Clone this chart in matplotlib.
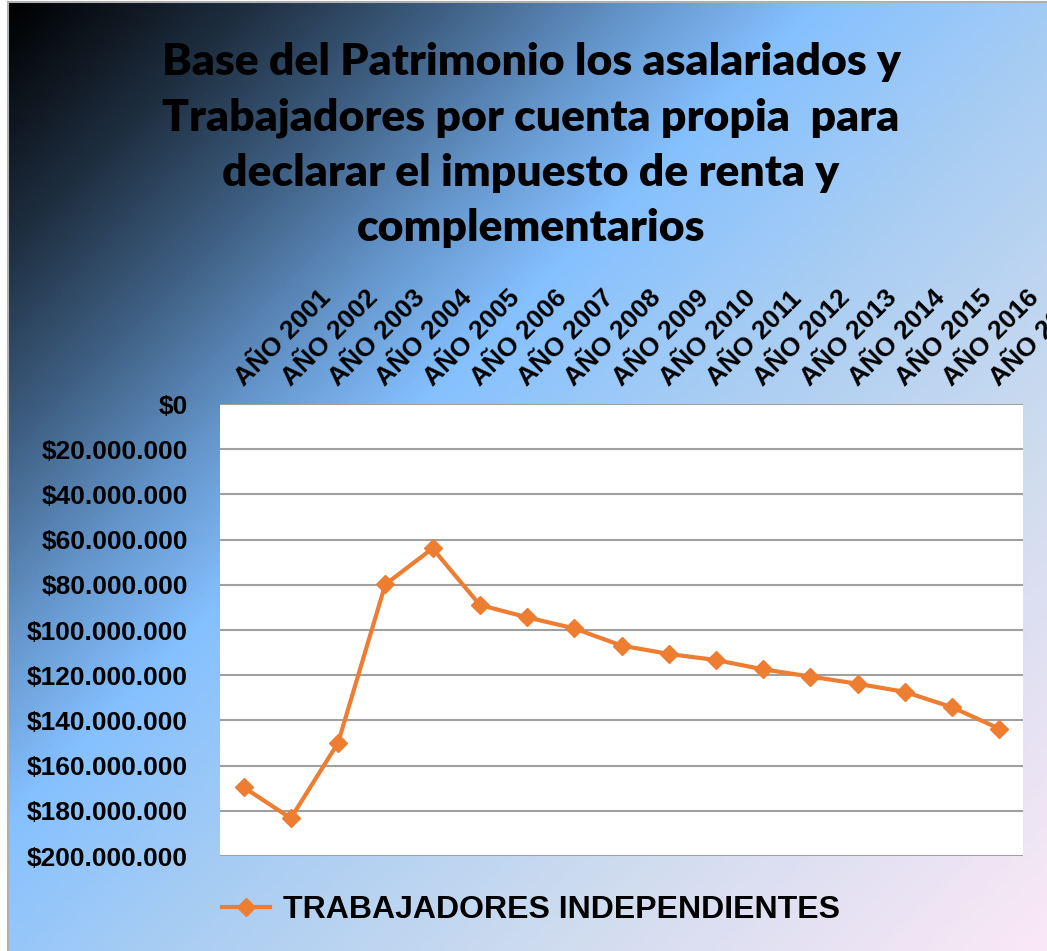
import numpy as np
import matplotlib.pyplot as plt
from matplotlib.colors import LinearSegmentedColormap
from matplotlib.ticker import FuncFormatter, MultipleLocator

# datos
anios = ['AÑO 2001', 'AÑO 2002', 'AÑO 2003', 'AÑO 2004', 'AÑO 2005', 'AÑO 2006',
         'AÑO 2007', 'AÑO 2008', 'AÑO 2009', 'AÑO 2010', 'AÑO 2011', 'AÑO 2012',
         'AÑO 2013', 'AÑO 2014', 'AÑO 2015', 'AÑO 2016', 'AÑO 2017']
independientes = [169.6e6, 183.3e6, 149.9e6, 79.8e6, 63.9e6, 88.9e6, 94.4e6, 99.3e6,
                  106.9e6, 110.6e6, 113.3e6, 117.4e6, 120.6e6, 123.8e6, 127.4e6,
                  134.2e6, 143.7e6]
serie = 'TRABAJADORES INDEPENDIENTES'
titulo = ('Base del Patrimonio los asalariados y\n'
          'Trabajadores por cuenta propia  para\n'
          'declarar el impuesto de renta y\n'
          'complementarios')

W, H = 1047, 951
naranja = '#ED7D31'

fig = plt.figure(figsize=(W / 100, H / 100), dpi=100)

# fondo degradado diagonal
bg = fig.add_axes([8 / W, 0, 1 - 8 / W, 1 - 2 / H], zorder=-10)
xx, yy = np.meshgrid(np.linspace(0, W, 400), np.linspace(0, H, 400))
t = (xx + yy) / (W + H)
cmap = LinearSegmentedColormap.from_list('fondo', [
    (0.0, '#000000'), (0.12, '#1e2e40'), (0.22, '#3e5f82'), (0.32, '#6596cc'),
    (0.41, '#85c1ff'), (0.55, '#a8cdf3'), (0.75, '#cfdcef'), (0.88, '#e6e2f3'),
    (1.0, '#fbe8f6')])
bg.imshow(t, cmap=cmap, aspect='auto', extent=(0, 1, 0, 1), origin='upper')
bg.set_xticks([])
bg.set_yticks([])
for s in ['right', 'bottom']:
    bg.spines[s].set_visible(False)
for s in ['left', 'top']:
    bg.spines[s].set_color('#b0b0b0')
    bg.spines[s].set_linewidth(1.5)

ax = fig.add_axes([220 / W, 1 - 856 / H, (1023 - 220) / W, (856 - 404) / H])
ax.set_facecolor('white')
x = np.arange(len(anios))
ax.plot(x, independientes, color=naranja, lw=3, marker='D', ms=9, label=serie)
ax.set_xlim(-0.5, len(anios) - 0.5)
ax.set_ylim(200e6, 0)
ax.yaxis.set_major_locator(MultipleLocator(20e6))
ax.yaxis.set_major_formatter(FuncFormatter(lambda v, p: '$' + format(int(round(v)), ',').replace(',', '.')))
ax.grid(axis='y', color='#a0a0a0', lw=1.5)
ax.set_axisbelow(True)
for s in ax.spines.values():
    s.set_visible(False)

ax.xaxis.tick_top()
ax.set_xticks(x)
ax.set_xticklabels(anios, rotation=45, ha='left', va='baseline', rotation_mode='anchor',
                   fontsize=19, fontweight='bold', family='Liberation Sans')
ax.tick_params(axis='x', length=0, pad=12)
ax.tick_params(axis='y', length=0, pad=23)
for lb in ax.get_yticklabels():
    lb.set_fontsize(19)
    lb.set_fontweight('bold')
    lb.set_family('Liberation Sans')

fig.text(531 / W, 1 - 145 / H, titulo, ha='center', va='center', fontsize=32,
         fontweight='heavy', family='Lato', linespacing=1.46)

fig.legend(loc='center', bbox_to_anchor=(531 / W, 1 - 910 / H), frameon=False,
           prop={'family': 'Liberation Sans', 'weight': 'bold', 'size': 23},
           handlelength=1.5, handletextpad=0.4)

fig.savefig('out.png', dpi=100)
